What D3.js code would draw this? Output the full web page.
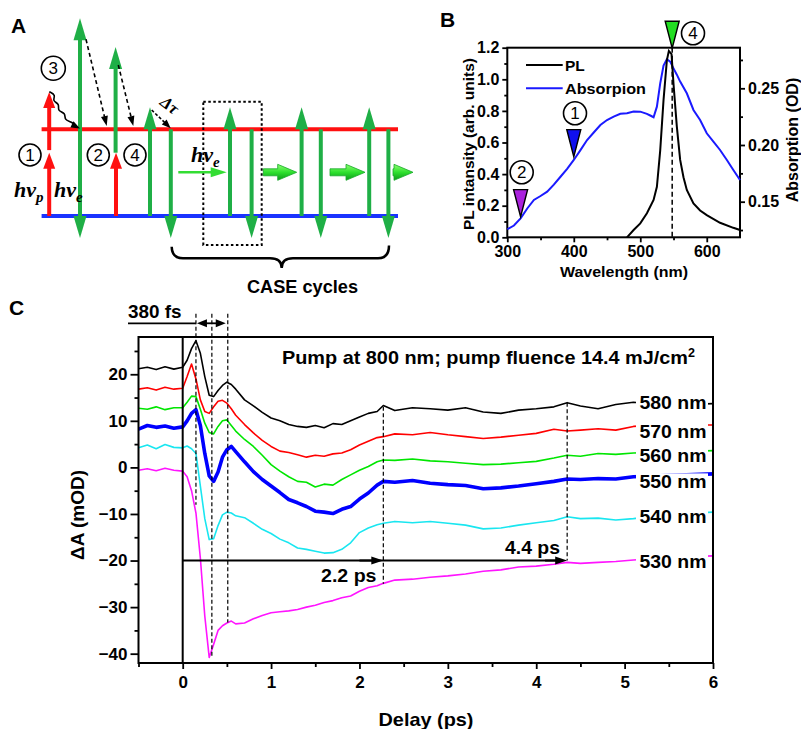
<!DOCTYPE html>
<html>
<head>
<meta charset="utf-8">
<script src="https://cdn.jsdelivr.net/npm/d3@7"></script>
<style>
  body { margin: 0; background: #fff; }
  svg text { font-family: "Liberation Sans", Arial, sans-serif; font-weight: bold; fill: #000; }
  .serif { font-family: "Liberation Serif", "Times New Roman", serif !important; font-style: italic; }
</style>
</head>
<body>
<svg id="fig" width="801" height="729"></svg>
<script>
// ---------- Panel B data (wavelength in nm) ----------
const absWl = [300,310,320,330,340,350,360,370,380,390,400,410,420,430,440,450,460,470,480,490,500,510,515,520,525,530,535,540,545,550,555,560,570,580,590,600,610,620,630,640,650];
const absOD = [0.1257,0.1290,0.1353,0.1440,0.1515,0.1550,0.1588,0.1650,0.1720,0.1790,0.1868,0.1955,0.2044,0.2110,0.2176,0.2220,0.2250,0.2275,0.2280,0.2295,0.2294,0.2275,0.2260,0.2245,0.2338,0.2544,0.2700,0.2756,0.2735,0.2676,0.2620,0.2559,0.2456,0.2309,0.2220,0.2103,0.2030,0.1956,0.1870,0.1780,0.1691];
const plWl = [480,490,500,510,520,525,530,535,540,543,547,550,555,560,565,570,580,590,600,620,640,650];
const plVal = [0,0.046,0.088,0.152,0.236,0.32,0.55,0.87,1.12,1.18,1.16,0.97,0.70,0.49,0.38,0.30,0.215,0.17,0.14,0.092,0.06,0.046];
const markWl = [548, 400, 320];          // (4), (1), (2) excitation marks
const markNum = ['4', '1', '2'];
const markColor = ['#22dd22', '#1010ee', '#aa22dd'];

// ---------- Panel C data (delay in ps, dA in mOD) ----------
const delays = [-0.5,-0.4,-0.3,-0.2,-0.1,0,0.05,0.1,0.15,0.2,0.25,0.3,0.35,0.4,0.45,0.5,0.55,0.6,0.7,0.8,0.9,1.0,1.1,1.2,1.3,1.4,1.5,1.6,1.7,1.8,1.9,2.0,2.1,2.2,2.27,2.4,2.6,2.8,3.0,3.2,3.4,3.6,3.8,4.0,4.2,4.35,4.5,4.7,4.9,5.1,5.3,5.5,5.7,6.0];
const dA580 = [21.2,21.5,21.0,21.6,21.1,21.5,23.0,25.5,27.2,24.5,19.5,15.5,15.2,16.5,17.6,18.3,17.8,16.8,14.5,13.2,11.8,10.6,10.0,9.2,8.8,8.6,9.0,8.5,9.4,9.2,10.0,10.8,11.6,12.0,13.3,12.2,12.8,12.6,12.3,12.8,11.9,11.6,12.3,12.6,13.0,13.9,13.2,12.6,13.5,14.0,13.6,13.8,13.5,13.7];
const dA570 = [16.8,17.1,16.6,17.2,16.8,17.0,19.5,22.2,19.0,14.5,12.0,11.6,13.0,14.2,14.4,13.8,12.6,11.2,9.2,7.4,5.8,4.5,3.5,3.2,2.7,2.2,2.6,2.4,2.9,3.1,3.8,4.8,5.6,6.4,6.6,7.2,7.0,7.5,7.0,6.6,6.2,6.5,6.9,7.3,8.2,7.8,8.0,8.3,8.0,8.8,9.0,8.8,9.1,9.1];
const dA560 = [12.7,12.5,13.0,12.4,12.8,12.8,14.0,15.3,15.2,12.5,9.5,7.5,7.2,8.8,10.0,10.2,9.0,7.8,6.0,4.5,2.6,0.6,-0.8,-2.0,-3.0,-3.2,-4.2,-3.6,-3.8,-2.6,-1.6,-0.6,0.2,1.2,1.6,1.5,1.8,1.4,1.2,0.9,0.6,0.7,1.0,1.3,2.0,2.6,2.4,3.0,2.8,3.1,3.2,3.3,3.4,3.6];
const dA550 = [8.2,9.0,8.6,8.9,8.4,8.7,10.0,11.6,12.4,9.0,3.0,-1.8,-3.0,-1.0,2.2,3.8,4.5,3.4,1.2,-0.9,-2.6,-4.0,-5.4,-6.9,-7.6,-8.4,-9.4,-9.6,-9.9,-9.0,-8.4,-6.8,-5.5,-3.8,-3.0,-3.2,-2.8,-3.4,-3.7,-3.9,-4.6,-4.4,-4.0,-3.5,-3.0,-2.5,-2.6,-2.4,-2.5,-2.0,-1.9,-1.7,-1.6,-1.4];
const dA540 = [4.2,4.8,4.0,4.9,4.3,4.2,4.6,4.0,3.0,-4.0,-11.0,-15.5,-15.3,-12.5,-10.2,-9.6,-9.8,-10.4,-10.8,-12.0,-13.3,-14.2,-15.4,-16.2,-17.3,-17.6,-18.0,-18.4,-18.3,-17.6,-16.2,-14.0,-13.0,-12.3,-12.0,-11.6,-11.9,-11.6,-12.0,-12.4,-13.2,-13.0,-12.4,-11.9,-11.4,-10.6,-11.0,-10.9,-11.3,-11.0,-10.6,-10.2,-9.9,-9.6];
const dA530 = [-0.6,-0.3,-0.7,-0.2,-0.6,-0.8,-2.0,-5.0,-9.8,-19.5,-31.9,-40.8,-38.0,-35.0,-34.0,-33.4,-33.0,-33.6,-33.4,-32.5,-31.8,-31.2,-31.0,-30.8,-30.5,-30.0,-29.6,-29.0,-28.6,-28.0,-27.6,-26.6,-25.8,-25.4,-24.9,-24.2,-24.0,-23.6,-23.3,-22.9,-22.3,-22.0,-21.4,-21.2,-20.8,-20.4,-20.6,-20.4,-20.2,-19.9,-19.6,-19.4,-19.2,-19.0];
const probeNames = ['580 nm','570 nm','560 nm','550 nm','540 nm','530 nm'];
const probeColors = ['#000000','#ff0000','#00e600','#0000ff','#19e6f0','#ff14ff'];
const probeWidths = [1.6,1.6,1.6,3.6,1.6,1.6];
const labelLevels = [13.9,7.7,2.6,-3.0,-10.5,-20.1];
// dashed guide lines: delay, from dA, to dA
const guideDelay = [0.15, 0.33, 0.51, 2.27, 4.35];
const guideTop = [33, 33, 33, 13.0, 13.9];
const guideBottom = [-8, -40.5, -33.3, -25.0, -20];

const svg = d3.select('#fig');

// helpers
function txt(g, x, y, s, size, o = {}) {
  const t = g.append('text').attr('x', x).attr('y', y).attr('font-size', size)
    .attr('text-anchor', o.anchor || 'start').text(s);
  if (o.len) t.attr('textLength', o.len).attr('lengthAdjust', 'spacingAndGlyphs');
  if (o.weight) t.style('font-weight', o.weight);
  return t;
}
function arrow(g, x1, y1, x2, y2, o = {}) {
  const c = o.color || '#000', w = o.width || 2, hl = o.headLen || 10, hw = o.headW || 8;
  const a = Math.atan2(y2 - y1, x2 - x1);
  const ends = [[x1, y1, x2, y2, a]];
  if (o.both) ends.push([x2, y2, x1, y1, a + Math.PI]);
  let sx1 = x1, sy1 = y1, sx2 = x2 - Math.cos(a) * hl * 0.8, sy2 = y2 - Math.sin(a) * hl * 0.8;
  if (o.both) { sx1 = x1 + Math.cos(a) * hl * 0.8; sy1 = y1 + Math.sin(a) * hl * 0.8; }
  g.append('line').attr('x1', sx1).attr('y1', sy1).attr('x2', sx2).attr('y2', sy2)
    .attr('stroke', c).attr('stroke-width', w).attr('stroke-dasharray', o.dash || null);
  ends.forEach(([, , tx, ty, ang]) => {
    const bx = tx - Math.cos(ang) * hl, by = ty - Math.sin(ang) * hl;
    const px = -Math.sin(ang) * hw / 2, py = Math.cos(ang) * hw / 2;
    g.append('path').attr('d', `M${tx},${ty}L${bx + px},${by + py}L${bx - px},${by - py}Z`).attr('fill', c);
  });
}
function circled(g, x, y, n, r) {
  g.append('circle').attr('cx', x).attr('cy', y).attr('r', r)
    .attr('fill', '#fff').attr('stroke', '#000').attr('stroke-width', 1.6);
  txt(g, x, y + 6, n, 17, { anchor: 'middle', weight: 'normal' });
}

// ================= Panel A : CASE scheme =================
const gA = svg.append('g');
const ax = d3.scaleLinear().domain([0, 100]).range([0, 400]);      // horizontal position in %
const lvl = d3.scaleLinear().domain([0, 1]).range([216, 129.3]);    // 0 = ground, 1 = excited
const green = '#1faf46', red = '#ff1010';

txt(gA, 11, 33, 'A', 21);
gA.append('line').attr('x1', ax(10.4)).attr('x2', ax(99.5)).attr('y1', lvl(1)).attr('y2', lvl(1)).attr('stroke', red).attr('stroke-width', 4);
gA.append('line').attr('x1', ax(10.4)).attr('x2', ax(99.5)).attr('y1', lvl(0)).attr('y2', lvl(0)).attr('stroke', '#1a33ff').attr('stroke-width', 4);

const vArrows = [
  { x: 20, from: -0.254, to: 2.28, both: true, c: green },
  { x: 28.9, from: 0.73, to: 1.95, c: green },
  { x: 37.5, from: 0, to: 1.254, c: green },
  { x: 42.7, from: 1, to: -0.254, c: green },
  { x: 57.5, from: 0, to: 1.254, c: green },
  { x: 62.9, from: 1, to: -0.254, c: green },
  { x: 75.4, from: 0, to: 1.254, c: green },
  { x: 80.2, from: 1, to: -0.254, c: green },
  { x: 92.3, from: 0, to: 1.254, c: green },
  { x: 97.1, from: 1, to: -0.254, c: green },
  { x: 12.3, from: 0, to: 0.73, c: red },
  { x: 12.3, from: 0.76, to: 1.43, c: red },
  { x: 29.0, from: 0, to: 0.73, c: red }
];
vArrows.forEach(d => arrow(gA, ax(d.x), lvl(d.from), ax(d.x), lvl(d.to),
  { color: d.c, width: 4, headLen: d.c === red ? 16 : 22, headW: d.c === red ? 12 : 13, both: d.both }));

// wavy relaxation arrow
const wave = d3.line().curve(d3.curveBasis);
gA.append('path').attr('d', wave([[49.3, 91.7], [56, 95], [52, 101], [60, 104], [57, 111], [66, 113], [64, 120], [72, 122], [76, 126]]))
  .attr('fill', 'none').attr('stroke', '#000').attr('stroke-width', 1.6);
arrow(gA, 72, 124.5, 80, 128.5, { width: 1.5, headLen: 9, headW: 7 });
// dashed emission arrows
arrow(gA, 86, 39.3, 106.7, 126, { width: 1.6, headLen: 10, headW: 7, dash: '4,3' });
arrow(gA, 118.3, 65, 133.3, 126, { width: 1.6, headLen: 10, headW: 7, dash: '4,3' });
arrow(gA, 151.7, 110, 170.7, 128.3, { width: 1.6, headLen: 9, headW: 7, dash: '3,2' });
gA.append('text').attr('class', 'serif').attr('font-size', 17).attr('transform', 'translate(159,104) rotate(38)').text('Δτ');

// dotted box
gA.append('rect').attr('x', 203.3).attr('y', 101.7).attr('width', 58.4).attr('height', 143.3)
  .attr('fill', 'none').attr('stroke', '#000').attr('stroke-width', 2).attr('stroke-dasharray', '2.5,2.5');

// h nu labels
function hnu(x, y, sub) {
  const t = gA.append('text').attr('class', 'serif').attr('x', x).attr('y', y).attr('font-size', 22);
  t.append('tspan').text('hν');
  t.append('tspan').attr('font-size', 15).attr('dy', 5).text(sub);
}
hnu(14, 197, 'p');
hnu(54, 197, 'e');
hnu(191, 162, 'e');

// emitted photons travelling along
arrow(gA, 178.3, 172.3, 226.7, 172.3, { color: '#33dd33', width: 2.5, headLen: 16, headW: 10 });
const defs = svg.append('defs');
const grad = defs.append('linearGradient').attr('id', 'fat').attr('x1', 0).attr('y1', 0).attr('x2', 0).attr('y2', 1);
grad.append('stop').attr('offset', '0%').attr('stop-color', '#8dff70');
grad.append('stop').attr('offset', '50%').attr('stop-color', '#2ee02e');
grad.append('stop').attr('offset', '100%').attr('stop-color', '#0c9a18');
[[263.3, 296.7], [330, 365], [393, 413]].forEach(([x0, x1]) => {
  const y = 172.3, hx = x1 - 19;
  gA.append('path').attr('d', `M${x0},${y - 3.5}L${hx},${y - 3.5}L${hx},${y - 8}L${x1},${y}L${hx},${y + 8}L${hx},${y + 3.5}L${x0},${y + 3.5}Z`)
    .attr('fill', 'url(#fat)').attr('stroke', '#17a82a').attr('stroke-width', 0.8);
});

// circled step numbers
circled(gA, 53.3, 68.3, '3', 12);
circled(gA, 30, 155, '1', 11);
circled(gA, 98.3, 155, '2', 11);
circled(gA, 135, 155, '4', 11);

// brace
gA.append('path').attr('d', 'M171.7,246.7 Q172,258.3 183,258.3 L270,258.3 Q281.7,258.3 281.7,268 Q281.7,258.3 293,258.3 L378,258.3 Q389,258.3 389,245.5')
  .attr('fill', 'none').attr('stroke', '#000').attr('stroke-width', 2.5);
txt(gA, 302.5, 293, 'CASE cycles', 18, { anchor: 'middle', len: 111 });

// ================= Panel B : spectra =================
const gB = svg.append('g');
const bL = 507.3, bR = 740, bT = 47.7, bB = 237.3;
const xB = d3.scaleLinear().domain([300, 650]).range([bL, bR]);
const yPL = d3.scaleLinear().domain([0, 1.2]).range([bB, bT]);
const yAbs = d3.scaleLinear().domain([0.1186, 0.2858]).range([bB, bT]);

txt(gB, 440, 27, 'B', 21);

function styleAxis(sel, size) {
  sel.select('.domain').remove();
  sel.selectAll('.tick line').attr('stroke', '#000').attr('stroke-width', 1.8);
  sel.selectAll('.tick text').attr('font-size', size).attr('fill', '#000');
}
gB.append('g').attr('transform', `translate(0,${bB})`)
  .call(d3.axisBottom(xB).tickValues([300, 400, 500, 600]).tickSize(5).tickPadding(3)).call(s => styleAxis(s, 16));
gB.append('g').attr('transform', `translate(0,${bB})`)
  .call(d3.axisBottom(xB).tickValues([350, 450, 550]).tickSize(3).tickFormat('')).call(s => styleAxis(s, 16));
gB.append('g').attr('transform', `translate(${bL},0)`)
  .call(d3.axisLeft(yPL).tickValues([0, 0.2, 0.4, 0.6, 0.8, 1.0, 1.2]).tickFormat(d3.format('.1f')).tickSize(5).tickPadding(3)).call(s => styleAxis(s, 16));
gB.append('g').attr('transform', `translate(${bL},0)`)
  .call(d3.axisLeft(yPL).tickValues([0.1, 0.3, 0.5, 0.7, 0.9, 1.1]).tickSize(3).tickFormat('')).call(s => styleAxis(s, 16));
gB.append('g').attr('transform', `translate(${bR},0)`)
  .call(d3.axisRight(yAbs).tickValues([0.15, 0.20, 0.25]).tickFormat(d3.format('.2f')).tickSize(5).tickPadding(3)).call(s => styleAxis(s, 16));
gB.append('g').attr('transform', `translate(${bR},0)`)
  .call(d3.axisRight(yAbs).tickValues([0.125, 0.175, 0.225, 0.275]).tickSize(3).tickFormat('')).call(s => styleAxis(s, 16));
gB.append('rect').attr('x', bL).attr('y', bT).attr('width', bR - bL).attr('height', bB - bT)
  .attr('fill', 'none').attr('stroke', '#000').attr('stroke-width', 2);

gB.append('path').attr('d', d3.line().x((d, i) => xB(absWl[i])).y(d => yAbs(d))(absOD))
  .attr('fill', 'none').attr('stroke', '#1a1aff').attr('stroke-width', 2);
gB.append('path').attr('d', d3.line().x((d, i) => xB(plWl[i])).y(d => yPL(d))(plVal))
  .attr('fill', 'none').attr('stroke', '#000').attr('stroke-width', 2);
gB.append('line').attr('x1', xB(548)).attr('x2', xB(548)).attr('y1', bT).attr('y2', bB)
  .attr('stroke', '#000').attr('stroke-width', 1.5).attr('stroke-dasharray', '5,3');

// legend
gB.append('line').attr('x1', 526).attr('x2', 562.7).attr('y1', 65).attr('y2', 65).attr('stroke', '#000').attr('stroke-width', 2);
txt(gB, 565, 70.5, 'PL', 15.5);
gB.append('line').attr('x1', 526).attr('x2', 562.7).attr('y1', 88.3).attr('y2', 88.3).attr('stroke', '#1a1aff').attr('stroke-width', 2);
txt(gB, 565, 94, 'Absorpion', 15.5, { len: 81 });

// excitation markers
const markTip = [bT + 0.6, yAbs(0.1897), yAbs(0.1368)];
const markNumPos = [[693, 33.3], [575, 113.3], [521.7, 172.3]];
markWl.forEach((w, i) => {
  const x = xB(w), tip = markTip[i], top = tip - 27;
  gB.append('path').attr('d', `M${x - 7},${top}L${x + 7},${top}L${x},${tip}Z`)
    .attr('fill', markColor[i]).attr('stroke', '#000').attr('stroke-width', 1.4);
  circled(gB, markNumPos[i][0], markNumPos[i][1], markNum[i], 11.5);
});

txt(gB, 624, 277, 'Wavelength (nm)', 15.5, { anchor: 'middle', len: 128 });
gB.append('text').attr('transform', 'translate(468.5,144) rotate(-90)').attr('text-anchor', 'middle')
  .attr('dy', '0.35em').attr('font-size', 15.5).text('PL intansity (arb. units)');
gB.append('text').attr('transform', 'translate(792.5,140) rotate(-90)').attr('text-anchor', 'middle')
  .attr('dy', '0.35em').attr('font-size', 16).text('Absorption (OD)');

// ================= Panel C : transient absorption =================
const gC = svg.append('g');
const cL = 138.5, cR = 713, cT = 337, cB = 663;
const xC = d3.scaleLinear().domain([-0.5, 6]).range([cL, cR]);
const yC = d3.scaleLinear().domain([-42, 28]).range([cB, cT]);

txt(gC, 9, 315, 'C', 21);

defs.append('clipPath').attr('id', 'clipC').append('rect')
  .attr('x', cL).attr('y', cT).attr('width', cR - cL).attr('height', cB - cT);

gC.append('g').attr('transform', `translate(0,${cB})`)
  .call(d3.axisBottom(xC).tickValues([0, 1, 2, 3, 4, 5, 6]).tickFormat(d3.format('d')).tickSize(6).tickPadding(7)).call(s => styleAxis(s, 17));
gC.append('g').attr('transform', `translate(0,${cB})`)
  .call(d3.axisBottom(xC).tickValues([-0.5, 0.5, 1.5, 2.5, 3.5, 4.5, 5.5]).tickSize(4).tickFormat('')).call(s => styleAxis(s, 17));
gC.append('g').attr('transform', `translate(${cL},0)`)
  .call(d3.axisLeft(yC).tickValues([-40, -30, -20, -10, 0, 10, 20]).tickFormat(d3.format('d')).tickSize(8).tickPadding(3)).call(s => styleAxis(s, 17));
gC.append('g').attr('transform', `translate(${cL},0)`)
  .call(d3.axisLeft(yC).tickValues([-35, -25, -15, -5, 5, 15, 25]).tickSize(4).tickFormat('')).call(s => styleAxis(s, 17));

const series = [dA580, dA570, dA560, dA550, dA540, dA530];
const lineC = d3.line().x((d, i) => xC(delays[i])).y(d => yC(d));
const curves = gC.append('g').attr('clip-path', 'url(#clipC)');
series.forEach((s, k) => {
  curves.append('path').attr('d', lineC(s)).attr('fill', 'none')
    .attr('stroke', probeColors[k]).attr('stroke-width', probeWidths[k]).attr('stroke-linejoin', 'round');
});

// frame and time-zero line
gC.append('rect').attr('x', cL).attr('y', cT).attr('width', cR - cL).attr('height', cB - cT)
  .attr('fill', 'none').attr('stroke', '#000').attr('stroke-width', 2);
gC.append('line').attr('x1', xC(0)).attr('x2', xC(0)).attr('y1', cT).attr('y2', cB).attr('stroke', '#000').attr('stroke-width', 2);

// dashed guides
guideDelay.forEach((t, i) => {
  gC.append('line').attr('x1', xC(t)).attr('x2', xC(t)).attr('y1', yC(guideTop[i])).attr('y2', yC(guideBottom[i]))
    .attr('stroke', '#000').attr('stroke-width', 1.2).attr('stroke-dasharray', '4,2.5');
});

// probe labels
probeNames.forEach((n, k) => {
  const y = yC(labelLevels[k]);
  gC.append('rect').attr('x', 636).attr('y', y - 8).attr('width', 72).attr('height', 16).attr('fill', '#fff');
  txt(gC, 639.5, y + 6.5, n, 18, { len: 67 });
});

// annotations
txt(gC, 282, 364, '', 19, { len: 413 })
  .call(t => {
    t.append('tspan').text('Pump at 800 nm; pump fluence 14.4 mJ/cm');
    t.append('tspan').attr('font-size', 12).attr('dy', -7).text('2');
  });
txt(gC, 128, 318, '380 fs', 19, { len: 53.5 });
gC.append('line').attr('x1', 128).attr('x2', xC(0.15)).attr('y1', 323.3).attr('y2', 323.3).attr('stroke', '#000').attr('stroke-width', 1.8);
arrow(gC, xC(0.15) + 1, 323.3, xC(0.51) - 2, 323.3, { width: 1.8, headLen: 10, headW: 8, both: true });

gC.append('line').attr('x1', xC(0)).attr('x2', xC(4.35) - 8).attr('y1', yC(-20)).attr('y2', yC(-20)).attr('stroke', '#000').attr('stroke-width', 2);
arrow(gC, xC(2.0), yC(-20), xC(2.27), yC(-20), { width: 2, headLen: 12, headW: 8 });
arrow(gC, xC(4.1), yC(-20), xC(4.35), yC(-20), { width: 2, headLen: 12, headW: 8 });
txt(gC, 321, 582, '2.2 ps', 19, { len: 55.5 });
txt(gC, 505, 553.5, '4.4 ps', 19, { len: 55 });

txt(gC, 426, 725.5, 'Delay (ps)', 19, { anchor: 'middle', len: 95 });
gC.append('text').attr('transform', 'translate(77,515) rotate(-90)').attr('text-anchor', 'middle')
  .attr('dy', '0.35em').attr('font-size', 19).text('ΔA (mOD)');
</script>
</body>
</html>
